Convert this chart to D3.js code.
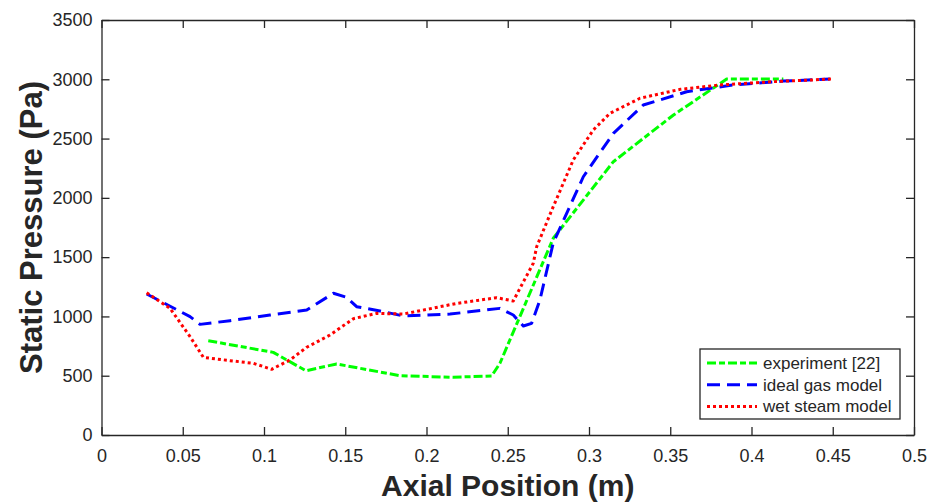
<!DOCTYPE html>
<html>
<head>
<meta charset="utf-8">
<script src="https://cdn.jsdelivr.net/npm/d3@7"></script>
<style>
  body { margin: 0; background: #fff; }
  text { font-family: "Liberation Sans", Arial, sans-serif; fill: #262626; }
</style>
</head>
<body>
<div id="chart"></div>
<script>
// axis ticks
const xTicks = [0, 0.05, 0.1, 0.15, 0.2, 0.25, 0.3, 0.35, 0.4, 0.45, 0.5];
const yTicks = [0, 500, 1000, 1500, 2000, 2500, 3000, 3500];

// experiment [22]
const expX = [0.0657, 0.1057, 0.1258, 0.1447, 0.1837, 0.2165, 0.2401, 0.2452, 0.278, 0.315, 0.352, 0.3847, 0.4196];
const expY = [795, 697, 542, 599, 500, 487, 498, 605, 1659, 2305, 2699, 3002, 3002];

// ideal gas model
const idealX = [0.0278, 0.0545, 0.0606, 0.0791, 0.1037, 0.1263, 0.1427, 0.1509, 0.157, 0.1714, 0.1857, 0.2145, 0.2452, 0.2534, 0.2596, 0.2647, 0.2698, 0.278, 0.2965, 0.315, 0.3334, 0.3601, 0.3888, 0.4196, 0.4483];
const idealY = [1189, 998, 933, 964, 1012, 1054, 1195, 1161, 1082, 1046, 1004, 1020, 1068, 1012, 919, 942, 1139, 1620, 2178, 2544, 2783, 2895, 2952, 2985, 3002];

// wet steam model
const wetX = [0.0278, 0.0422, 0.0545, 0.0627, 0.0791, 0.0934, 0.1047, 0.116, 0.1263, 0.1406, 0.155, 0.1694, 0.1857, 0.2186, 0.2432, 0.2534, 0.2575, 0.2657, 0.2678, 0.278, 0.2903, 0.3026, 0.3129, 0.3314, 0.356, 0.3806, 0.4134, 0.4493];
const wetY = [1200, 1068, 829, 655, 627, 605, 554, 633, 740, 843, 981, 1026, 1020, 1110, 1158, 1130, 1237, 1448, 1588, 1926, 2319, 2572, 2713, 2840, 2915, 2952, 2980, 3002];

const series = [
  { name: "experiment [22]", xs: expX, ys: expY, color: "#00ff00", dash: "9,3,6,3", width: 3 },
  { name: "ideal gas model", xs: idealX, ys: idealY, color: "#0000ff", dash: "13,7", width: 3 },
  { name: "wet steam model", xs: wetX, ys: wetY, color: "#ff0000", dash: "3,3", width: 3 },
];

const W = 931, H = 502;
const margin = { top: 20, right: 17, bottom: 67, left: 101.5 };

const svg = d3.select("#chart").append("svg")
  .attr("width", W)
  .attr("height", H);

const x = d3.scaleLinear().domain([0, 0.5]).range([margin.left, W - margin.right]);
const y = d3.scaleLinear().domain([0, 3500]).range([H - margin.bottom, margin.top]);

// lines first, axes box drawn on top
const line = d3.line().x(d => x(d[0])).y(d => y(d[1]));

series.forEach(s => {
  svg.append("path")
    .datum(s.xs.map((v, i) => [v, s.ys[i]]))
    .attr("d", line)
    .attr("fill", "none")
    .attr("stroke", s.color)
    .attr("stroke-width", s.width)
    .attr("stroke-dasharray", s.dash)
    .attr("stroke-linejoin", "round");
});

const tickLen = 8;
const fmtX = d => d === 0 ? "0" : String(d);

// bottom axis
const gx = svg.append("g")
  .attr("transform", "translate(0," + y(0) + ")")
  .call(d3.axisBottom(x).tickValues(xTicks).tickFormat(fmtX).tickSizeInner(-tickLen).tickSizeOuter(0).tickPadding(14));
// left axis
const gy = svg.append("g")
  .attr("transform", "translate(" + x(0) + ",0)")
  .call(d3.axisLeft(y).tickValues(yTicks).tickFormat(d3.format("d")).tickSizeInner(-tickLen).tickSizeOuter(0).tickPadding(9));
// top and right
const gt = svg.append("g")
  .attr("transform", "translate(0," + y(3500) + ")")
  .call(d3.axisTop(x).tickValues(xTicks).tickFormat("").tickSizeInner(-tickLen).tickSizeOuter(0));
const gr = svg.append("g")
  .attr("transform", "translate(" + x(0.5) + ",0)")
  .call(d3.axisRight(y).tickValues(yTicks).tickFormat("").tickSizeInner(-tickLen).tickSizeOuter(0));

[gx, gy, gt, gr].forEach(g => {
  g.select(".domain").attr("stroke", "#262626").attr("stroke-width", 1.3);
  g.selectAll(".tick line").attr("stroke", "#262626").attr("stroke-width", 1.3);
  g.selectAll(".tick text")
    .attr("font-family", "Liberation Sans, Arial, sans-serif")
    .attr("font-size", 18)
    .attr("fill", "#262626");
});

// axis titles
svg.append("text")
  .attr("x", (x(0) + x(0.5)) / 2)
  .attr("y", 496)
  .attr("text-anchor", "middle")
  .attr("font-size", 30)
  .attr("font-weight", "bold")
  .text("Axial Position (m)");

svg.append("text")
  .attr("transform", "translate(42," + (y(0) + y(3500)) / 2 + ") rotate(-90)")
  .attr("text-anchor", "middle")
  .attr("font-size", 31)
  .attr("font-weight", "bold")
  .text("Static Pressure (Pa)");

// legend
const leg = svg.append("g").attr("transform", "translate(700,349)");
leg.append("rect")
  .attr("width", 200).attr("height", 70)
  .attr("fill", "#fff")
  .attr("stroke", "#262626")
  .attr("stroke-width", 1.3);

series.forEach((s, i) => {
  const cy = 14 + i * 21.7;
  leg.append("line")
    .attr("x1", 7).attr("x2", 57)
    .attr("y1", cy).attr("y2", cy)
    .attr("stroke", s.color)
    .attr("stroke-width", s.width)
    .attr("stroke-dasharray", s.dash);
  leg.append("text")
    .attr("x", 63)
    .attr("y", cy + 6)
    .attr("font-size", 17)
    .attr("fill", "#000")
    .text(s.name);
});
</script>
</body>
</html>
